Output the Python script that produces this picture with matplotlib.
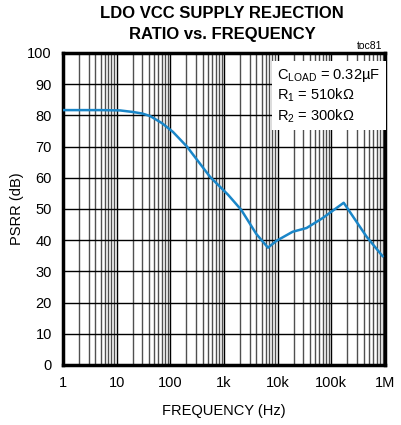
import matplotlib
matplotlib.use("Agg")
import matplotlib.pyplot as plt
from matplotlib.ticker import LogLocator, FixedLocator, FixedFormatter
import numpy as np

# PSRR curve
freq_hz = [1, 5, 11.5, 20, 30, 42, 70, 112, 204, 550, 1200, 2100, 4000, 6600, 9500,
           19000, 34500, 69000, 170000, 455000, 900000]
psrr_db = [81.7, 81.7, 81.6, 81.1, 80.6, 79.8, 77.5, 74.7, 70.0, 60.3, 54.5, 49.7, 42.0,
           37.6, 39.8, 42.7, 43.9, 47.1, 52.0, 41.1, 34.9]

x_ticks = [1, 10, 100, 1e3, 1e4, 1e5, 1e6]
x_labels = ["1", "10", "100", "1k", "10k", "100k", "1M"]
y_ticks = [0, 10, 20, 30, 40, 50, 60, 70, 80, 90, 100]

plt.rcParams['font.family'] = ['Liberation Sans', 'DejaVu Sans']

fig = plt.figure(figsize=(4.01, 4.25), dpi=100)
ax = fig.add_axes([63/401, 1 - 365/425, 322/401, 312/425])

ax.plot(freq_hz, psrr_db, color="#1a86c8", lw=1.8, zorder=5)

ax.set_xscale("log")
ax.set_xlim(1, 1e6)
ax.set_ylim(0, 100)
ax.xaxis.set_major_locator(FixedLocator(x_ticks))
ax.xaxis.set_major_formatter(FixedFormatter(x_labels))
ax.xaxis.set_minor_locator(LogLocator(base=10, subs=np.arange(2, 10)))
ax.xaxis.set_minor_formatter(plt.NullFormatter())
ax.set_yticks(y_ticks)

ax.grid(which="major", color="black", lw=1.0)
ax.grid(which="minor", axis="x", color="#505050", lw=1.0)
ax.tick_params(which="both", length=0, labelsize=10.5, pad=8)

for side in ["left", "bottom", "right", "top"]:
    ax.spines[side].set_linewidth(2.5)

ax.set_xlabel("FREQUENCY (Hz)", fontsize=10.5, labelpad=10)
ax.set_ylabel("PSRR (dB)", fontsize=10.5, labelpad=2)

fig.text(222/401, 1 - 24/425, "LDO VCC SUPPLY REJECTION\nRATIO vs. FREQUENCY",
         ha="center", va="center", fontsize=12, fontweight="bold", linespacing=1.45)
fig.text(382/401, 1 - 46/425, "toc81", ha="right", va="center", fontsize=7.5)

ax.text(0.665, 0.955, "C$_{\\mathregular{LOAD}}$ = 0.32µF\nR$_{\\mathregular{1}}$ = 510kΩ\nR$_{\\mathregular{2}}$ = 300kΩ",
        transform=ax.transAxes, ha="left", va="top", fontsize=10.5, linespacing=1.2,
        zorder=6, bbox=dict(facecolor="white", edgecolor="none", pad=4))

fig.savefig("out.png", dpi=100)
